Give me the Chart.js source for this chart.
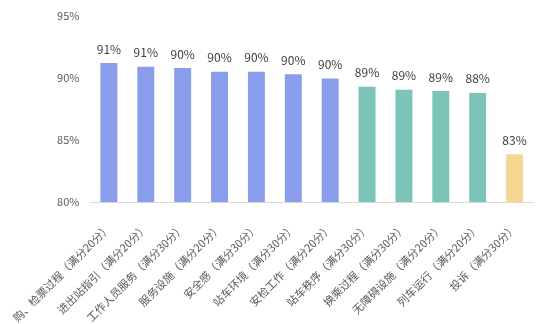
<!DOCTYPE html>
<html lang="zh">
<head>
    <meta charset="UTF-8">
    <title>满意度得分率</title>
    <style>
        body {
            margin: 0;
            background-color: white;
        }
        .chart-box {
            width: 550px;
            height: 324px;
            position: relative;
        }
    </style>
    <script src="https://cdn.jsdelivr.net/npm/chart.js"></script>
</head>
<body>
    <div class="chart-box">
        <canvas id="scoreChart"></canvas>
    </div>

    <script>
        const categories = [
            '购、检票过程（满分20分）',
            '进出站指引（满分20分）',
            '工作人员服务（满分30分）',
            '服务设施（满分20分）',
            '安全感（满分30分）',
            '站车环境（满分30分）',
            '安检工作（满分20分）',
            '站车秩序（满分30分）',
            '换乘过程（满分30分）',
            '无障碍设施（满分20分）',
            '列车运行（满分20分）',
            '投诉（满分30分）'
        ];
        const scores = [91.2, 90.9, 90.8, 90.5, 90.5, 90.3, 89.95, 89.3, 89.05, 88.95, 88.8, 83.85];
        const valueLabels = ['91%', '91%', '90%', '90%', '90%', '90%', '90%', '89%', '89%', '89%', '88%', '83%'];
        const barColors = [
            '#8a9cec', '#8a9cec', '#8a9cec', '#8a9cec', '#8a9cec', '#8a9cec', '#8a9cec',
            '#7cc4b7', '#7cc4b7', '#7cc4b7', '#7cc4b7',
            '#f6d690'
        ];
        const yTicks = [80, 85, 90, 95];

        const fontFamily = '"Noto Sans CJK SC", "Noto Sans", sans-serif';

        // draws the percentage above each bar
        const valueLabelPlugin = {
            id: 'valueLabels',
            afterDatasetsDraw(chart) {
                const ctx = chart.ctx;
                const meta = chart.getDatasetMeta(0);
                ctx.save();
                ctx.font = '12px ' + fontFamily;
                ctx.fillStyle = '#404040';
                ctx.textAlign = 'center';
                ctx.textBaseline = 'bottom';
                meta.data.forEach((bar, i) => {
                    ctx.fillText(valueLabels[i], bar.x, bar.y - 8);
                });
                ctx.restore();
            }
        };

        const ctx = document.getElementById('scoreChart').getContext('2d');
        new Chart(ctx, {
            type: 'bar',
            data: {
                labels: categories,
                datasets: [{
                    data: scores,
                    backgroundColor: barColors,
                    categoryPercentage: 1,
                    barPercentage: 0.46
                }]
            },
            options: {
                responsive: true,
                maintainAspectRatio: false,
                animation: false,
                layout: {
                    padding: { top: 16, right: 17, bottom: 0, left: 0 }
                },
                plugins: {
                    legend: { display: false },
                    tooltip: { enabled: false }
                },
                scales: {
                    x: {
                        grid: { display: false },
                        border: { color: '#d9d9d9' },
                        ticks: {
                            color: '#595959',
                            font: { family: fontFamily, size: 11 },
                            minRotation: 45,
                            maxRotation: 45,
                            autoSkip: false,
                            padding: 11
                        },
                        afterFit(scale) {
                            scale.height = 122;
                        }
                    },
                    y: {
                        min: 80,
                        max: 95,
                        grid: { display: false },
                        border: { display: false },
                        afterBuildTicks(scale) {
                            scale.ticks = yTicks.map(v => ({ value: v }));
                        },
                        ticks: {
                            color: '#595959',
                            font: { family: fontFamily, size: 11 },
                            padding: 3,
                            callback: v => v + '%'
                        },
                        afterFit(scale) {
                            scale.width = 89;
                        }
                    }
                }
            },
            plugins: [valueLabelPlugin]
        });
    </script>
</body>
</html>
